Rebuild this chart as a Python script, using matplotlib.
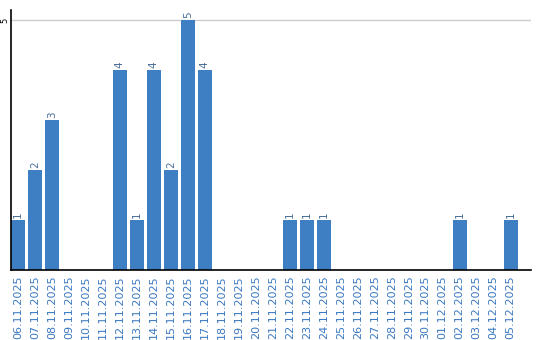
import matplotlib
matplotlib.use('Agg')
from matplotlib import pyplot as plt

dates = ["06.11.2025", "07.11.2025", "08.11.2025", "09.11.2025", "10.11.2025",
         "11.11.2025", "12.11.2025", "13.11.2025", "14.11.2025", "15.11.2025",
         "16.11.2025", "17.11.2025", "18.11.2025", "19.11.2025", "20.11.2025",
         "21.11.2025", "22.11.2025", "23.11.2025", "24.11.2025", "25.11.2025",
         "26.11.2025", "27.11.2025", "28.11.2025", "29.11.2025", "30.11.2025",
         "01.12.2025", "02.12.2025", "03.12.2025", "04.12.2025", "05.12.2025"]
counts = [1, 2, 3, 0, 0, 0, 4, 1, 4, 2, 5, 4, 0, 0, 0, 0, 1, 1, 1, 0,
          0, 0, 0, 0, 0, 0, 1, 0, 0, 1]

bar_color = '#3e7fc4'
text_color = '#3a78c0'

fig = plt.figure(figsize=(5.4, 3.4), dpi=100)
ax = fig.add_axes([11/540, 70/340, 520/540, 260/340])

x = list(range(len(dates)))
ax.bar(x, counts, width=0.82, color=bar_color, zorder=2)

for xi, c in zip(x, counts):
    if c > 0:
        ax.text(xi, c + 0.05, str(c), rotation=90, ha='center', va='bottom',
                fontsize=7.5, color='#4a6f99', zorder=3)

ax.set_xlim(-0.41, 30.2)
ax.set_ylim(0, 5.2)
ax.set_yticks([5])
ax.set_yticklabels(['5'], rotation=90, va='center', fontsize=6)
ax.tick_params(axis='y', length=0, pad=1.5)
ax.yaxis.grid(True, color='#cccccc', linewidth=1, zorder=0)

ax.set_xticks(x)
ax.set_xticklabels(dates, rotation=90, fontsize=8, color=text_color)
ax.tick_params(axis='x', length=0, pad=4)

for side in ['top', 'right']:
    ax.spines[side].set_visible(False)
ax.spines['left'].set_linewidth(1.2)
ax.spines['bottom'].set_linewidth(1.2)

fig.savefig('out.png', dpi=100)
